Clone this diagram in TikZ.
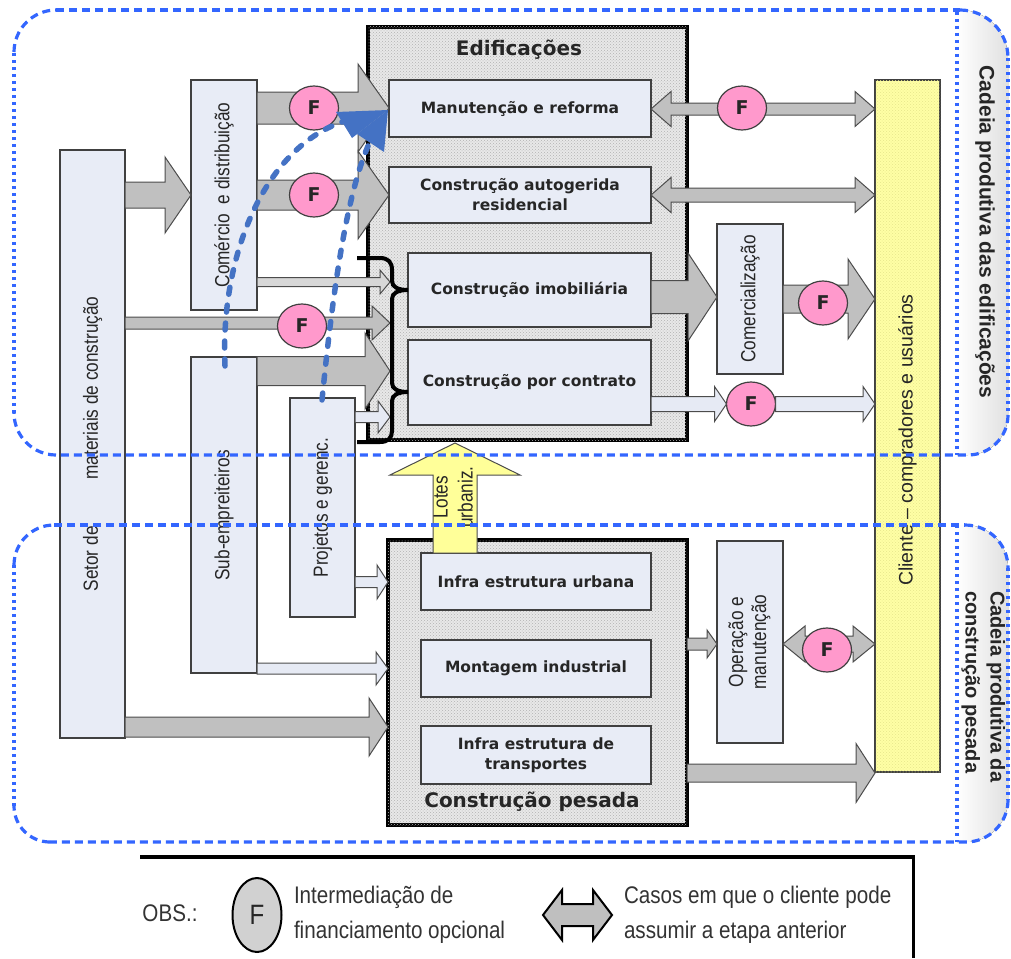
\documentclass[tikz,border=0pt]{standalone}
\usepackage{fontspec}
\setmainfont{Liberation Sans}
\newfontfamily\tah{DejaVu Sans}
\newfontfamily\narrowf{Liberation Sans}[FakeStretch=0.86]
\newfontfamily\condf{Liberation Sans}[FakeStretch=0.84]
\usetikzlibrary{calc,shapes.geometric,patterns}
\definecolor{boxfill}{RGB}{232,236,246}
\definecolor{arrgray}{RGB}{192,192,192}
\definecolor{lightarr}{RGB}{230,234,244}
\definecolor{midarr}{RGB}{215,215,215}
\definecolor{pinkF}{RGB}{255,153,204}
\definecolor{regblue}{RGB}{51,102,255}
\definecolor{curveblue}{RGB}{68,114,196}
\definecolor{yel}{RGB}{255,255,165}
\definecolor{yelp}{RGB}{230,230,140}
\definecolor{lotesyel}{RGB}{255,255,153}
\newcommand\blockR[7]{\draw[#1] let \p1=#2, \p2=#3, \p3=(0,#4) in
  (\x1,\y3+#5pt) -- (\x2-#7pt,\y3+#5pt) -- (\x2-#7pt,\y3+#6pt) -- (\x2,\y3)
  -- (\x2-#7pt,\y3-#6pt) -- (\x2-#7pt,\y3-#5pt) -- (\x1,\y3-#5pt) -- cycle;}
\newcommand\blockD[7]{\draw[#1] let \p1=#2, \p2=#3, \p3=(0,#4) in
  (\x1,\y3) -- (\x1+#7pt,\y3+#6pt) -- (\x1+#7pt,\y3+#5pt) -- (\x2-#7pt,\y3+#5pt)
  -- (\x2-#7pt,\y3+#6pt) -- (\x2,\y3) -- (\x2-#7pt,\y3-#6pt) -- (\x2-#7pt,\y3-#5pt)
  -- (\x1+#7pt,\y3-#5pt) -- (\x1+#7pt,\y3-#6pt) -- cycle;}
\tikzset{
  nb/.style={inner sep=0pt, outer sep=0pt},
  ibox/.style={nb, draw=black!75, line width=1.3pt, fill=boxfill, align=center, text=black!85,
    font=\tah\bfseries\fontsize{15.5}{20}\selectfont},
  vbox/.style={nb, draw=black!75, line width=1.3pt, fill=boxfill, text=black!85,
    font=\condf\fontsize{20.5}{23}\selectfont},
  bigbox/.style={nb, draw=black, line width=3.5pt, fill=black!9,
    postaction={pattern=crosshatch dots, pattern color=black!30}},
  fcirc/.style={nb, ellipse, draw=black!75, line width=1.2pt, fill=pinkF,
    minimum width=49pt, minimum height=44pt, text=black!85,
    font=\tah\bfseries\fontsize{19}{19}\selectfont},
  garrow/.style={draw=black!70, line width=1pt, fill=arrgray},
  larrow/.style={draw=black!70, line width=1pt, fill=lightarr},
  marrow/.style={draw=black!70, line width=1pt, fill=midarr},
  yarrow/.style={draw=black!70, line width=1pt, fill=lotesyel},
  regdash/.style={regblue, line width=3.2pt, dash pattern=on 8pt off 5pt},
  regdot/.style={regblue, line width=3.2pt, dash pattern=on 3pt off 4pt},
  bcurve/.style={curveblue, line width=5.5pt, line cap=round, dash pattern=on 7pt off 11pt},
  ttl/.style={nb, text=black!85, font=\tah\bfseries\fontsize{20}{20}\selectfont},
  legtext/.style={nb, anchor=west, align=left, text=black!80, font=\narrowf\fontsize{24}{35}\selectfont}
}
\begin{document}
\begin{tikzpicture}[x=1pt,y=-1pt]
\useasboundingbox (0,0) rectangle (1011,958);

% label strips
\fill[left color=white, right color=black!12] (957,10) -- (960,10) .. controls (986.4,10) and (1008,31.6) .. (1008,58) -- (1008,415) .. controls (1008,437) and (990,455) .. (968,455) -- (957,455) -- cycle;
\fill[left color=white, right color=black!12] (957,525) -- (965,525) .. controls (989,525) and (1008,544) .. (1008,568) -- (1008,800) .. controls (1008,823) and (989,842) .. (966,842) -- (957,842) -- cycle;

% big boxes
\node[bigbox, minimum width=319pt, minimum height=413pt] (edif) at (527.5,233.5) {};
\node[bigbox, minimum width=299pt, minimum height=285pt] (pesada) at (537.5,682.5) {};
\node[ttl] (etit) at (519,50) {Edificações};
\node[ttl] (ptit) at (532,802) {Construção pesada};

% inner boxes
\node[ibox, minimum width=262pt, minimum height=57pt] (manut) at (520,108.5) {Manutenção e reforma};
\node[ibox, minimum width=262pt, minimum height=56pt] (auto) at (520,195) {Construção autogerida\\residencial};
\node[ibox, minimum width=243pt, minimum height=74pt] (imob) at (529.5,290) {Construção imobiliária};
\node[ibox, minimum width=243pt, minimum height=85pt] (contr) at (529.5,382.5) {Construção por contrato};
\node[ibox, minimum width=230pt, minimum height=57pt] (urb) at (536,581.5) {Infra estrutura urbana};
\node[ibox, minimum width=230pt, minimum height=57pt] (mont) at (536,668.5) {Montagem industrial};
\node[ibox, minimum width=230pt, minimum height=58pt] (transp) at (536,755) {Infra estrutura de\\transportes};

% vertical boxes
\node[vbox, minimum width=65pt, minimum height=588pt] (setor) at (92.5,444) {\rotatebox{90}{Setor de\hspace{47pt}materiais de construção}};
\node[vbox, minimum width=66pt, minimum height=230pt] (com) at (224,195) {\rotatebox{90}{Comércio\ \ e distribuição}};
\node[vbox, minimum width=66pt, minimum height=316pt] (sub) at (224,515) {\rotatebox{90}{Sub-empreiteiros}};
\node[vbox, minimum width=65pt, minimum height=219pt] (proj) at (322.5,507.5) {\rotatebox{90}{Projetos e gerenc.}};
\node[vbox, minimum width=66pt, minimum height=150pt] (comerc) at (750,299) {\rotatebox{90}{Comercialização}};
\node[vbox, minimum width=66pt, minimum height=202pt] (oper) at (750,642) {\rotatebox{90}{\begin{tabular}{@{}c@{}}Operação e\\manutenção\end{tabular}}};
\node[vbox, fill=yel, postaction={pattern=crosshatch dots, pattern color=yelp}, minimum width=65pt, minimum height=692pt, font=\fontsize{19.5}{22}\selectfont] (cliente) at (907.5,426) {\rotatebox{90}{Cliente – compradores e usuários\hspace*{28pt}}};

\coordinate (brc) at (390,350);

% block arrows, left side
\blockR{garrow}{(setor.east)}{(com.west)}{195}{13}{38}{26}
\blockR{garrow}{(com.east)}{(manut.west)}{108}{16}{44}{31}
\blockR{garrow}{(com.east)}{(auto.west)}{195}{15}{44}{31}
\blockR{marrow}{(com.east)}{(brc)}{282}{4.5}{12}{10}
\blockR{garrow}{(setor.east)}{(brc)}{323}{6}{17}{18}
\blockR{garrow}{(sub.east)}{(brc)}{371}{14.5}{38}{25}
\blockR{larrow}{(proj.east)}{(brc)}{417}{5.5}{16}{12}
\blockR{larrow}{(proj.east)}{(pesada.west)}{582}{5.5}{17}{11}
\blockR{larrow}{(sub.east)}{(pesada.west)}{668.5}{5.5}{16.5}{12}
\blockR{garrow}{(setor.east)}{(pesada.west)}{727}{10}{29}{19}

% block arrows, right side
\blockD{garrow}{(manut.east)}{(cliente.west)}{109}{6}{17.5}{20}
\blockD{garrow}{(auto.east)}{(cliente.west)}{195}{7}{17.5}{20}
\blockR{garrow}{(imob.east)}{(comerc.west)}{297}{16.5}{44}{29}
\blockR{garrow}{(comerc.east)}{(cliente.west)}{299}{14}{40}{27}
\blockR{garrow}{(pesada.east)}{(oper.west)}{644}{6}{14}{10}
\blockD{garrow}{(oper.east)}{(cliente.west)}{644}{8}{18}{22}
\blockR{garrow}{(pesada.east)}{(cliente.west)}{773}{9}{29.5}{19}

% F circles
\node[fcirc] (Fa) at (314,108) {F};
\node[fcirc] (Fb) at (314,195) {F};
\node[fcirc] (Fc) at (302,326) {F};
\node[fcirc] (Fm) at (742,108) {F};
\node[fcirc] (Fe) at (823,303) {F};
\node[fcirc] (Fd) at (751,404) {F};
\node[fcirc] (Fo) at (827,650) {F};
\blockR{larrow}{(contr.east)}{(Fd.west)}{404}{7.5}{17.5}{12}
\blockR{larrow}{(Fd.east)}{(cliente.west)}{404}{7.5}{17.5}{12}

% brace
\draw[line width=4pt, black] (357,258) -- (380,258) .. controls (388,258) and (392,262) .. (392,270) -- (392,281) .. controls (392,287) and (398,290) .. (408,290) .. controls (398,290) and (392,293) .. (392,299) -- (392,383) .. controls (392,389) and (398,392) .. (408,392) .. controls (398,392) and (392,395) .. (392,401) -- (392,431) .. controls (392,438) and (388,442) .. (380,442) -- (357,442);

% lotes urbanizados arrow
\draw[yarrow] let \p1=(urb.north), \p2=(edif.south) in
  (433pt,\y1) -- (433pt,\y2-35pt) -- (390pt,\y2-35pt) -- (455pt,\y2-3pt) -- (520pt,\y2-35pt) -- (477pt,\y2-35pt) -- (477pt,\y1) -- cycle;
\node[nb, text=black!85, font=\condf\fontsize{20.5}{25}\selectfont] (lotes) at (455,497) {\rotatebox{90}{\begin{tabular}{@{}c@{}}Lotes\\urbaniz.\end{tabular}}};

% region outlines
\draw[regdash] (56,10) -- (960,10);
\draw[regdash] (960,10) .. controls (986.4,10) and (1008,31.6) .. (1008,58);
\draw[regdot] (1008,58) -- (1008,415);
\draw[regdash] (1008,415) .. controls (1008,437) and (990,455) .. (968,455) -- (56,455);
\draw[regdash] (56,455) .. controls (33,455) and (14,436) .. (14,413);
\draw[regdot] (14,413) -- (14,52);
\draw[regdash] (14,52) .. controls (14,29) and (33,10) .. (56,10);
\draw[regdot] (957,12) -- (957,455);

\draw[regdash] (54,525) -- (965,525);
\draw[regdash] (965,525) .. controls (989,525) and (1008,544) .. (1008,568);
\draw[regdot] (1008,568) -- (1008,800);
\draw[regdash] (1008,800) .. controls (1008,823) and (989,842) .. (966,842) -- (50,842);
\draw[regdash] (50,842) .. controls (30,842) and (14,826) .. (14,806);
\draw[regdot] (14,806) -- (14,565);
\draw[regdash] (14,565) .. controls (14,543) and (32,525) .. (54,525);
\draw[regdot] (957,525) -- (957,842);

\node[nb, text=black!85, font=\bfseries\fontsize{21}{25}\selectfont] (lab1) at (985,232) {\rotatebox{-90}{Cadeia produtiva das edificações}};
\node[nb, anchor=north, text=black!85, font=\bfseries\fontsize{20}{25}\selectfont] (lab2) at (983,591) {\rotatebox{-90}{\begin{tabular}{@{}l@{}}Cadeia produtiva da\\construção pesada\end{tabular}}};

% blue dashed curves
\draw[bcurve] (225,366) .. controls (220,260) and (262,150) .. (342,122);
\fill[curveblue] (388,110) -- (336,112) -- (352,138) -- cycle;
\draw[bcurve] (322,400) .. controls (332,300) and (345,200) .. (368,146);
\fill[curveblue] (388,110) -- (357,134) -- (384,152) -- cycle;

% legend
\draw[line width=4pt] (140,857) -- (915,857);
\draw[line width=3pt] (913,855) -- (913,958);
\node[nb, text=black!80, font=\narrowf\fontsize{24}{30}\selectfont] (obs) at (170,913) {OBS.:};
\node[nb, ellipse, draw=black, line width=2pt, fill=black!18, minimum width=49pt, minimum height=74pt, text=black!85, font=\narrowf\fontsize{28}{28}\selectfont] (lf) at (257,915) {F};
\node[legtext] (lt1) at (294,915) {Intermediação de\\financiamento opcional};
\coordinate (la) at (543,915);
\coordinate (lb) at (612,915);
\blockD{draw=black, line width=2pt, fill=black!25}{(la)}{(lb)}{915}{11}{25}{19}
\node[legtext] (lt2) at (624,915) {Casos em que o cliente pode\\assumir a etapa anterior};
\end{tikzpicture}
\end{document}
